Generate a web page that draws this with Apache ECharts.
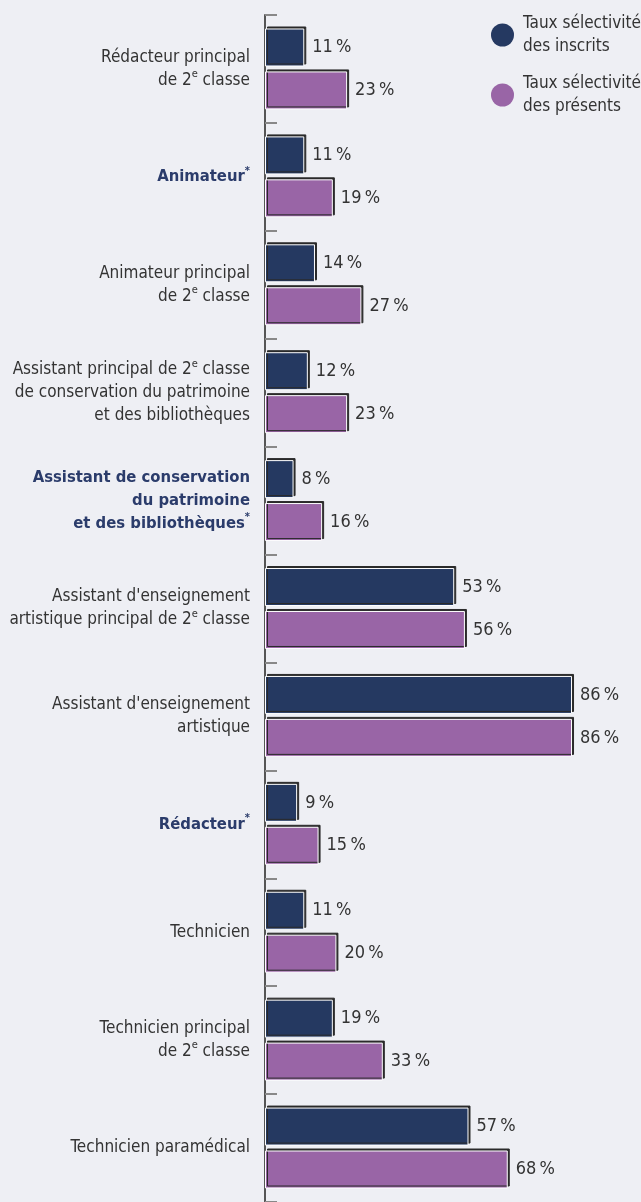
<!DOCTYPE html>
<html>
<head>
<meta charset="utf-8">
<script src="https://cdn.jsdelivr.net/npm/echarts@6/dist/echarts.min.js"></script>
<style>
  html, body { margin: 0; padding: 0; background: #eeeff4; }
  #chart { width: 641px; height: 1202px; }
</style>
</head>
<body>
<div id="chart"></div>
<script>
// categories (rich markup: {s|..} superscript, {b|..} bold, {bs|..} bold superscript)
var categories = [
  "Rédacteur principal\nde 2{s|e} classe",
  "{b|Animateur}{bs|*}",
  "Animateur principal\nde 2{s|e} classe",
  "Assistant principal de 2{s|e} classe\nde conservation du patrimoine\net des bibliothèques",
  "{b|Assistant de conservation}\n{b|du patrimoine}\n{b|et des bibliothèques}{bs|*}",
  "Assistant d'enseignement\nartistique principal de 2{s|e} classe",
  "Assistant d'enseignement\nartistique",
  "{b|Rédacteur}{bs|*}",
  "Technicien",
  "Technicien principal\nde 2{s|e} classe",
  "Technicien paramédical"
];
var seriesNames = ["Taux sélectivité des inscrits", "Taux sélectivité des présents"];
var inscrits = [11, 11, 14, 12, 8, 53, 86, 9, 11, 19, 57];
var presents = [23, 19, 27, 23, 16, 56, 86, 15, 20, 33, 68];

var FONT = "'Liberation Sans Narrow', 'DejaVu Sans Condensed', sans-serif";
var chart = echarts.init(document.getElementById("chart"));

function barSeries(name, data) {
  return {
    name: name,
    type: "bar",
    data: data,
    barWidth: 38,
    barGap: "13%",
    itemStyle: {
      borderColor: "#ffffff",
      borderWidth: 1,
      shadowColor: "#2a2a2a",
      shadowOffsetX: 2,
      shadowOffsetY: -2,
      shadowBlur: 0
    },
    label: {
      show: true,
      position: "right",
      distance: 8,
      color: "#333",
      fontFamily: FONT,
      fontSize: 18,
      formatter: function (p) { return p.value + "\u2009%"; }
    }
  };
}

chart.setOption({
  backgroundColor: "#eeeff4",
  animation: false,
  color: ["#253961", "#9965a6"],
  legend: {
    orient: "vertical",
    left: 486,
    top: 7,
    icon: "circle",
    itemWidth: 23,
    itemHeight: 23,
    itemGap: 14,
    data: seriesNames,
    itemStyle: { borderWidth: 0, shadowBlur: 0, shadowOffsetX: 0, shadowOffsetY: 0, shadowColor: "transparent" },
    formatter: function (n) { return n.replace(" des", "\ndes"); },
    textStyle: { color: "#333", fontFamily: FONT, fontSize: 17, lineHeight: 23, padding: [0, 0, 0, 4] }
  },
  grid: { left: 265, right: 19, top: 15, bottom: 0, containLabel: false, outerBoundsMode: "none" },
  xAxis: {
    type: "value",
    min: 0,
    max: 100,
    show: false
  },
  yAxis: {
    type: "category",
    inverse: true,
    data: categories,
    axisLine: { lineStyle: { color: "#555", width: 2 } },
    axisTick: { show: true, inside: true, length: 12, lineStyle: { color: "#888", width: 2 } },
    axisLabel: {
      interval: 0,
      margin: 15,
      color: "#333",
      fontFamily: FONT,
      fontSize: 17,
      lineHeight: 23,
      align: "right",
      rich: {
        s: { fontFamily: FONT, fontSize: 11, color: "#333", verticalAlign: "top", lineHeight: 23 },
        b: { fontFamily: FONT, fontSize: 16.5, fontWeight: "bold", color: "#2b3c6b", lineHeight: 23 },
        bs: { fontFamily: FONT, fontSize: 11, fontWeight: "bold", color: "#2b3c6b", verticalAlign: "top", lineHeight: 23 }
      }
    }
  },
  series: [
    barSeries(seriesNames[0], inscrits),
    barSeries(seriesNames[1], presents)
  ]
});
</script>
</body>
</html>
